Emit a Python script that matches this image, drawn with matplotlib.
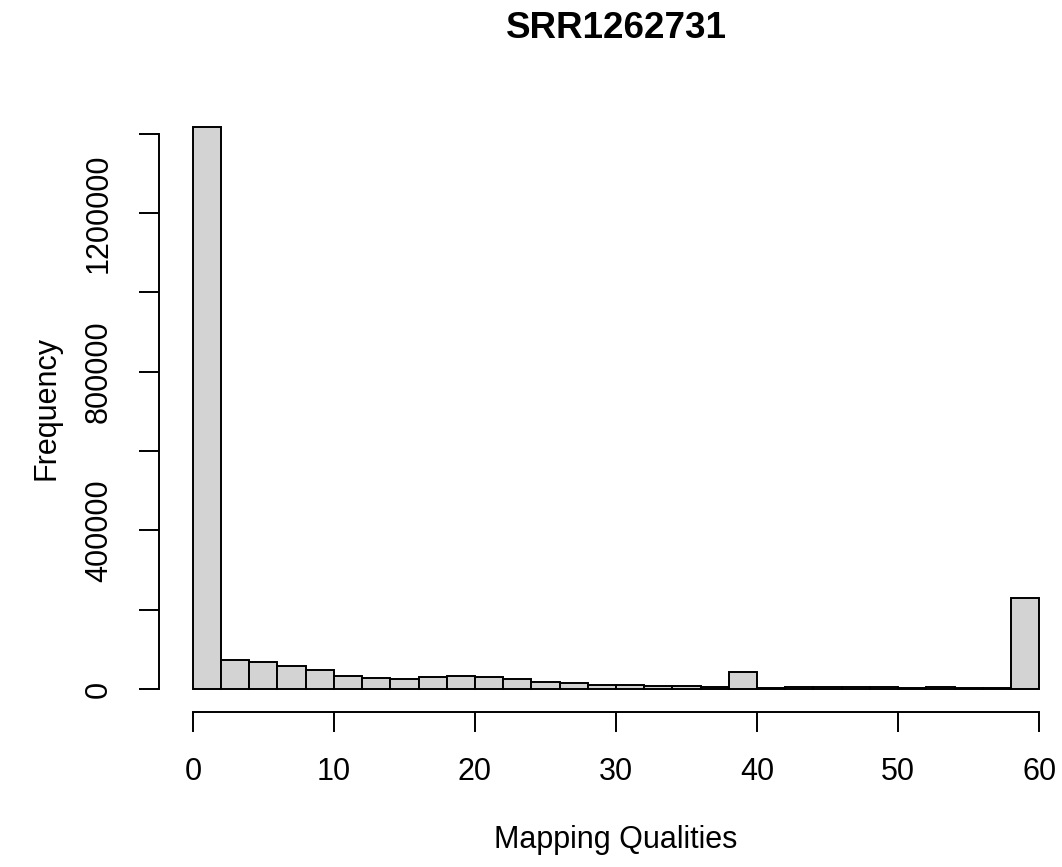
import matplotlib
matplotlib.use("Agg")
import matplotlib.pyplot as plt
from matplotlib.ticker import MultipleLocator

TITLE = "SRR1262731"
X_LABEL = "Mapping Qualities"
Y_LABEL = "Frequency"

# histogram bins (width 2) and counts
bin_left = [0, 2, 4, 6, 8, 10, 12, 14, 16, 18, 20, 22, 24, 26, 28,
            30, 32, 34, 36, 38, 40, 42, 44, 46, 48, 50, 52, 54, 56, 58]
counts = [1418000, 72600, 68400, 59100, 47300, 32100, 27000, 25300, 29500, 32100,
          29500, 24500, 16900, 15200, 11000, 9300, 8400, 8400, 5900, 42200,
          3400, 4200, 4200, 5000, 5000, 2500, 4200, 2500, 1700, 228700]
bin_width = 2

x_ticks = [0, 10, 20, 30, 40, 50, 60]
y_ticks = [0, 400000, 800000, 1200000]

plt.rcParams["font.family"] = ["Liberation Sans", "DejaVu Sans"]

W, H = 1062, 867
fig = plt.figure(figsize=(W / 100, H / 100), dpi=100)
ax = fig.add_axes([159 / W, 1 - 711.5 / H, 914 / W, 607.5 / H])

ax.bar(bin_left, counts, width=bin_width, align="edge",
       color="#D3D3D3", edgecolor="black", linewidth=1.4)

# R-style 4% padding around the data range
xmin, xmax = 0, 60
ymax = max(counts)
ax.set_xlim(xmin - 0.04 * (xmax - xmin), xmax + 0.04 * (xmax - xmin))

for s in ["top", "right"]:
    ax.spines[s].set_visible(False)
ax.spines["left"].set_bounds(0, 1400000)
ax.spines["bottom"].set_bounds(0, 60)
ax.spines["left"].set_linewidth(1.4)
ax.spines["bottom"].set_linewidth(1.4)

ax.set_xticks(x_ticks)
ax.set_xticklabels([str(v) for v in x_ticks])
ax.set_yticks(y_ticks)
ax.set_yticklabels([str(v) for v in y_ticks], rotation=90, va="center")
ax.yaxis.set_minor_locator(MultipleLocator(200000))
ax.set_ylim(-0.04 * ymax, ymax * 1.04)

ax.tick_params(axis="both", which="both", length=14.4, width=1.4,
               labelsize=22)
ax.tick_params(axis="x", which="major", pad=18)
ax.tick_params(axis="y", which="major", pad=18)

fig.text(616 / W, 1 - 28 / H, TITLE, fontsize=26.5, fontweight="bold",
         ha="center", va="center")
fig.text(616 / W, 1 - 840 / H, X_LABEL, fontsize=22, ha="center", va="center")
fig.text(46 / W, 1 - 408 / H, Y_LABEL, fontsize=22, rotation=90,
         ha="center", va="center")

fig.savefig("out.png", dpi=100)
